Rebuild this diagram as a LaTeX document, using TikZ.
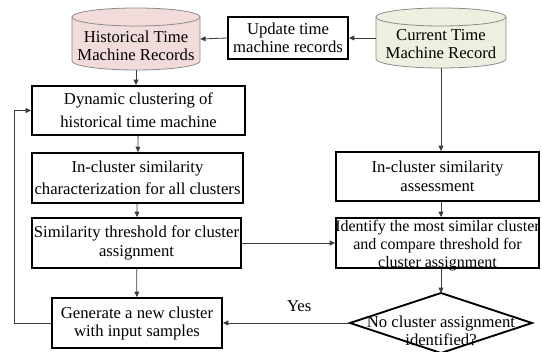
\documentclass[tikz,border=0pt]{standalone}
\usepackage{fontspec}
\setmainfont{Liberation Serif}
\usetikzlibrary{arrows.meta}

\definecolor{histpink}{HTML}{F2DCDB}
\definecolor{curgreen}{HTML}{EBF1DE}
\definecolor{rimgray}{HTML}{8C8C8C}
\definecolor{linegray}{HTML}{3C3C3C}

\tikzset{
  procbox/.style={draw, line width=1.4pt, align=center, inner sep=0pt},
  flow/.style={draw=linegray, line width=0.6pt, -{Triangle[length=4pt,width=3.6pt]}},
  lbl/.style={align=center, inner sep=0pt}
}

\begin{document}
\begin{tikzpicture}[x=0.75pt, y=0.75pt, font=\rmfamily\fontsize{12.5}{13.5}\selectfont]
  \useasboundingbox (0,0) rectangle (542,352);

  % Record stores
  \fill[histpink] (72,335) -- (72,291) arc[start angle=180, end angle=360, x radius=64, y radius=9]
    -- (200,335) arc[start angle=0, end angle=180, x radius=64, y radius=9] -- cycle;
  \draw[rimgray, line width=0.6pt] (72,335) -- (72,291) arc[start angle=180, end angle=360, x radius=64, y radius=9] -- (200,335);
  \draw[rimgray, line width=0.6pt] (136,335) ellipse [x radius=64, y radius=9];
  \node[lbl, minimum width=128pt*0.75, minimum height=62pt*0.75] (hist) at (136,313) {};
  \node[lbl] at (136,306) {Historical Time\\Machine Records};

  \fill[curgreen] (376,335) -- (376,293) arc[start angle=180, end angle=360, x radius=65, y radius=9]
    -- (506,335) arc[start angle=0, end angle=180, x radius=65, y radius=9] -- cycle;
  \draw[rimgray, line width=0.6pt] (376,335) -- (376,293) arc[start angle=180, end angle=360, x radius=65, y radius=9] -- (506,335);
  \draw[rimgray, line width=0.6pt] (441,335) ellipse [x radius=65, y radius=9];
  \node[lbl, minimum width=130pt*0.75, minimum height=60pt*0.75] (cur) at (441,314) {};
  \node[lbl] at (441,308) {Current Time\\Machine Record};

  % Process boxes
  \node[procbox, minimum width=120pt*0.75, minimum height=42pt*0.75] (upd) at (288,314) {Update time\\machine records};
  \node[procbox, minimum width=213pt*0.75, minimum height=49pt*0.75] (dyn) at (138.5,241.5) {Dynamic clustering of\\[4pt]historical time machine};
  \node[procbox, minimum width=211pt*0.75, minimum height=50pt*0.75] (charz) at (137.5,174) {In-cluster similarity\\[3pt]characterization for all clusters};
  \node[procbox, minimum width=209pt*0.75, minimum height=50pt*0.75] (thr) at (136.5,109) {Similarity threshold for cluster\\[1pt]assignment};
  \node[procbox, minimum width=170pt*0.75, minimum height=50pt*0.75] (gen) at (137,29) {Generate a new cluster\\with input samples};
  \node[procbox, minimum width=203pt*0.75, minimum height=49pt*0.75] (assess) at (437.5,175.5) {In-cluster similarity\\[1pt]assessment};
  \node[procbox, minimum width=203pt*0.75, minimum height=50pt*0.75] (ident) at (437.5,109) {};
  \node[lbl, font=\fontsize{12}{13.5}\selectfont] at (437.5,106) {Identify the most similar cluster\\and compare threshold for\\cluster assignment};

  % Decision
  \coordinate (dectop) at (441,59);
  \coordinate (decleft) at (350,29);
  \draw[line width=1.4pt] (decleft) -- (dectop) -- (532,29) -- (441,-1) -- cycle;
  \node[lbl] (dec) at (441,21) {No cluster assignment\\identified?};

  % Connectors
  \draw[flow] (cur.west) -- (upd.east);
  \draw[flow] (upd.west) -- (hist.east);
  \draw[flow] (hist.south) -- (hist.south |- dyn.north);
  \draw[flow] (dyn) -- (charz);
  \draw[flow] (charz) -- (thr);
  \draw[flow] (thr) -- (gen);
  \draw[flow] (cur.south) -- (cur.south |- assess.north);
  \draw[flow] (assess.south -| dectop) -- (ident.north -| dectop);
  \draw[flow] (ident.south -| dectop) -- (dectop);
  \draw[flow] (thr.east) -- (thr.east -| ident.west);
  \draw[flow] (decleft) -- (gen.east) node[pos=0.4, above=5pt] {Yes};
  \draw[flow] (gen.west) -- ++(-37,0) |- (dyn.west);
\end{tikzpicture}
\end{document}
